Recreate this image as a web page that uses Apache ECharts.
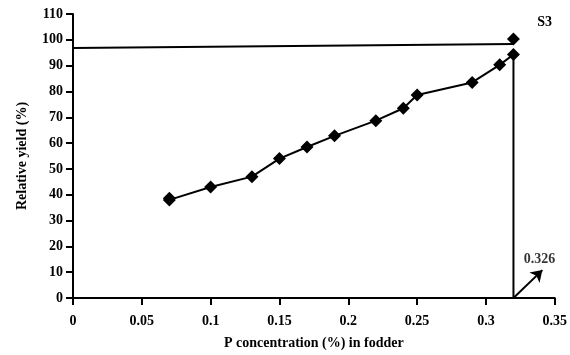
<!DOCTYPE html>
<html>
<head>
<meta charset="utf-8">
<script src="https://cdn.jsdelivr.net/npm/echarts@6/dist/echarts.min.js"></script>
<style>
  html, body { margin: 0; padding: 0; background: #fff; }
  #chart { width: 570px; height: 355px; }
</style>
</head>
<body>
<div id="chart"></div>
<script>
// yield response to P in fodder, site S3
const pConc = [0.07, 0.07, 0.10, 0.13, 0.15, 0.17, 0.19, 0.22, 0.24, 0.25, 0.29, 0.31, 0.32];
const relYield = [38, 38.6, 43, 47, 54, 58.5, 62.8, 68.7, 73.5, 78.6, 83.5, 90.3, 94.3];
const topPoint = [[0.32, 100.3]];
const plateauLine = [[0, 96.8], [0.32, 98.4]];
const criticalLine = [[0.32, 94.3], [0.32, 0]];
const arrowFrom = [0.32, 0];
const arrowTo = [0.341, 10.8];
const criticalLabel = '0.326';
const labelPos = [0.339, 14.8];

const font = 'Liberation Serif';
const chart = echarts.init(document.getElementById('chart'));

chart.setOption({
  animation: false,
  title: {
    text: 'S3',
    right: 13, top: 10,
    textStyle: { fontFamily: font, fontSize: 14, fontWeight: 'bold', color: '#000' },
  },
  grid: { left: 73, right: 15, top: 14, bottom: 57 },
  xAxis: {
    type: 'value',
    min: 0, max: 0.35, interval: 0.05,
    name: 'P concentration (%) in fodder',
    nameLocation: 'center', nameGap: 38,
    nameTextStyle: { fontFamily: font, fontSize: 14, fontWeight: 'bold', color: '#000' },
    axisLine: { lineStyle: { color: '#000', width: 2 } },
    axisTick: { length: 7, lineStyle: { color: '#000', width: 2 } },
    axisLabel: { fontFamily: font, fontSize: 14, fontWeight: 'bold', color: '#000', margin: 16 },
    splitLine: { show: false },
  },
  yAxis: {
    type: 'value',
    min: 0, max: 110, interval: 10,
    name: 'Relative yield (%)',
    nameLocation: 'center', nameGap: 44,
    nameTextStyle: { fontFamily: font, fontSize: 14, fontWeight: 'bold', color: '#000' },
    axisLine: { show: true, lineStyle: { color: '#000', width: 2 } },
    axisTick: { show: true, length: 7, lineStyle: { color: '#000', width: 2 } },
    axisLabel: { fontFamily: font, fontSize: 14, fontWeight: 'bold', color: '#000', margin: 10 },
    splitLine: { show: false },
  },
  series: [
    {
      type: 'line',
      data: plateauLine,
      symbol: 'none',
      lineStyle: { color: '#000', width: 2 },
    },
    {
      type: 'line',
      data: criticalLine,
      symbol: 'none',
      lineStyle: { color: '#000', width: 2 },
      markLine: {
        silent: true,
        symbol: ['none', 'arrow'],
        symbolSize: 11,
        label: { show: false },
        lineStyle: { color: '#000', width: 2, type: 'solid' },
        data: [[{ coord: arrowFrom }, { coord: arrowTo }]],
      },
    },
    {
      type: 'line',
      data: pConc.map((x, i) => [x, relYield[i]]),
      symbol: 'diamond',
      symbolSize: 13,
      itemStyle: { color: '#000' },
      lineStyle: { color: '#000', width: 2 },
    },
    {
      type: 'scatter',
      data: topPoint,
      symbol: 'diamond',
      symbolSize: 13,
      itemStyle: { color: '#000', opacity: 1 },
    },
    {
      type: 'scatter',
      data: [labelPos],
      symbolSize: 0,
      label: {
        show: true,
        formatter: criticalLabel,
        position: 'inside',
        fontFamily: font, fontSize: 14, fontWeight: 'bold', color: '#000',
      },
    },
  ],
});
</script>
</body>
</html>
